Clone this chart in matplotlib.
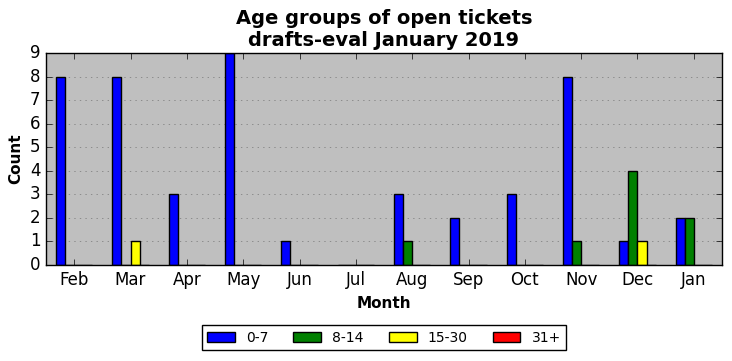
import numpy as np
import matplotlib
matplotlib.use('Agg')
import matplotlib.pyplot as plt

plt.style.use('classic')

# Daten
months = ['Feb', 'Mar', 'Apr', 'May', 'Jun', 'Jul', 'Aug', 'Sep', 'Oct', 'Nov', 'Dec', 'Jan']
age_0_7 = [8, 8, 3, 9, 1, 0, 3, 2, 3, 8, 1, 2]
age_8_14 = [0, 0, 0, 0, 0, 0, 1, 0, 0, 1, 4, 2]
age_15_30 = [0, 1, 0, 0, 0, 0, 0, 0, 0, 0, 1, 0]
age_31 = [0, 0, 0, 0, 0, 0, 0, 0, 0, 0, 0, 0]

series = [('0-7', age_0_7, 'blue'), ('8-14', age_8_14, 'green'),
          ('15-30', age_15_30, 'yellow'), ('31+', age_31, 'red')]

fig = plt.figure(figsize=(7.32, 3.61), dpi=100)
ax = fig.add_axes([46 / 732, 1 - 265 / 361, 676 / 732, 212 / 361])
ax.set_facecolor('#bfbfbf')

x = np.arange(len(months))
width = 0.16
for i, (name, vals, col) in enumerate(series):
    ax.bar(x - 0.32 + i * width, vals, width, align='edge', color=col,
           edgecolor='black', label=name)

ax.set_xlim(-0.5, len(months) - 0.5)
ax.set_ylim(0, 9)
ax.set_yticks(range(10))
ax.set_xticks(x)
ax.set_xticklabels(months)
ax.yaxis.grid(True, linestyle=':', color='#777777')
ax.set_axisbelow(True)

ax.set_xlabel('Month', fontweight='bold', fontsize=11)
ax.set_ylabel('Count', fontweight='bold', fontsize=11)
ax.set_title('Age groups of open tickets\ndrafts-eval January 2019',
             fontweight='bold', fontsize=14)
ax.legend(loc='upper center', bbox_to_anchor=(0.5, -0.25), ncol=4,
          fontsize=10, handlelength=2, columnspacing=1.8)

fig.savefig('out.png', dpi=100)
